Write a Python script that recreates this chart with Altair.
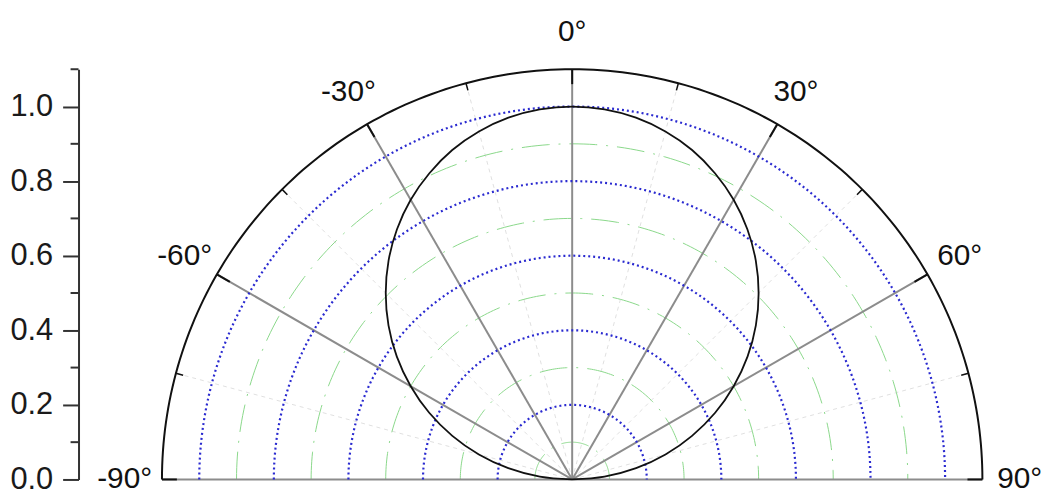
import altair as alt
import pandas as pd

# ---- data ----
ring_major = [0.2, 0.4, 0.6, 0.8, 1.0]          # blue dotted circles
ring_minor = [0.1, 0.3, 0.5, 0.7, 0.9]          # green dash-dot circles
outer_radius = [1.1]                            # outer boundary arc
spoke_major = [-90, -60, -30, 0, 30, 60, 90]    # grey radial grid lines
spoke_minor = [-75, -45, -15, 15, 45, 75]       # faint minor radial lines
tick_major = [-90, -60, -30, 0, 30, 60, 90]
tick_minor = [-75, -45, -15, 15, 45, 75]
label_angles = [-90, -60, -30, 0, 30, 60, 90]
y_major = [0.0, 0.2, 0.4, 0.6, 0.8, 1.0]
y_minor = [0.1, 0.3, 0.5, 0.7, 0.9, 1.1]
curve_angle = list(range(-90, 91, 5))
curve_r = [0.000, 0.087, 0.174, 0.259, 0.342, 0.423, 0.500, 0.574, 0.643, 0.707,
           0.766, 0.819, 0.866, 0.906, 0.940, 0.966, 0.985, 0.996,
           1.000,
           0.996, 0.985, 0.966, 0.940, 0.906, 0.866, 0.819, 0.766, 0.707, 0.643,
           0.574, 0.500, 0.423, 0.342, 0.259, 0.174, 0.087, 0.000]

arc_steps = list(range(-90, 91, 1))

# ---- tables ----
def ring_table(radii):
    return pd.DataFrame([{"ring": r, "a": a, "r": r} for r in radii for a in arc_steps])

rings_major_df = ring_table(ring_major)
rings_minor_df = ring_table(ring_minor)
outer_df = ring_table(outer_radius)
curve_df = pd.DataFrame({"a": curve_angle, "r": curve_r})
spoke_major_df = pd.DataFrame({"a": spoke_major, "r0": 0.0, "r1": outer_radius[0]})
spoke_minor_df = pd.DataFrame({"a": spoke_minor, "r0": 0.0, "r1": outer_radius[0]})
tick_major_df = pd.DataFrame({"a": tick_major, "r0": 1.06, "r1": outer_radius[0]})
tick_minor_df = pd.DataFrame({"a": tick_minor, "r0": 1.08, "r1": outer_radius[0]})
label_df = pd.DataFrame({"a": label_angles, "r": 1.2})
ymin_df = pd.DataFrame({"v": y_minor})

# ---- scales (equal px per unit on both axes) ----
k = 413 / 1.1
x_min = -497 / k
x_max = x_min + 969 / k
xs = alt.Scale(domain=[x_min, x_max], nice=False, zero=False)
ys = alt.Scale(domain=[0, 1.1], nice=False, zero=False)

FONT = "Liberation Sans"
yaxis = alt.Axis(values=y_major, format=".1f", labelFontSize=31, labelFont=FONT,
                 labelColor="#1a1a1a", tickSize=16, tickWidth=2, tickColor="#333333",
                 domainColor="#333333", domainWidth=2, labelPadding=10, grid=False,
                 title=None)

PX = "datum.r*sin(datum.a*PI/180)"
PY = "datum.r*cos(datum.a*PI/180)"


def arc_layer(df, **mark):
    return alt.Chart(df).transform_calculate(x=PX, y=PY).mark_line(**mark).encode(
        x=alt.X("x:Q", scale=xs, axis=None),
        y=alt.Y("y:Q", scale=ys, axis=yaxis),
        detail="ring:N",
        order="a:Q",
    )


def ray_layer(df, **mark):
    return alt.Chart(df).transform_calculate(
        x0="datum.r0*sin(datum.a*PI/180)", y0="datum.r0*cos(datum.a*PI/180)",
        x1="datum.r1*sin(datum.a*PI/180)", y1="datum.r1*cos(datum.a*PI/180)",
    ).mark_rule(**mark).encode(
        x=alt.X("x0:Q", scale=xs, axis=None),
        y=alt.Y("y0:Q", scale=ys, axis=yaxis),
        x2="x1:Q",
        y2="y1:Q",
    )


minor_spokes = ray_layer(spoke_minor_df, color="#e0e0e0", strokeWidth=1, strokeDash=[4, 4])
green_rings = arc_layer(rings_minor_df, color="#8ad88a", strokeWidth=1, strokeDash=[28, 9, 2, 9])
major_spokes = ray_layer(spoke_major_df, color="#8c8c8c", strokeWidth=2)
blue_rings = arc_layer(rings_major_df, color="#2a2ad0", strokeWidth=2.2, strokeDash=[2, 3])
curve = alt.Chart(curve_df).transform_calculate(x=PX, y=PY).mark_line(
    color="#111111", strokeWidth=1.8, interpolate="catmull-rom").encode(
    x=alt.X("x:Q", scale=xs, axis=None),
    y=alt.Y("y:Q", scale=ys, axis=yaxis),
    order="a:Q",
)
outer = arc_layer(outer_df, color="#111111", strokeWidth=2)
ticks_major = ray_layer(tick_major_df, color="#111111", strokeWidth=2)
ticks_minor = ray_layer(tick_minor_df, color="#111111", strokeWidth=1.5)

labels = alt.Chart(label_df).transform_calculate(
    x=PX, y=PY, t="toString(datum.a) + '°'"
).mark_text(font=FONT, fontSize=30, color="#111111", align="center", baseline="middle").encode(
    x=alt.X("x:Q", scale=xs, axis=None),
    y=alt.Y("y:Q", scale=ys, axis=yaxis),
    text="t:N",
)

yminor = alt.Chart(ymin_df).mark_rule(color="#333333", strokeWidth=2).encode(
    y=alt.Y("v:Q", scale=ys, axis=yaxis),
    x=alt.value(-8),
    x2=alt.value(0),
)

chart = alt.layer(
    minor_spokes, green_rings, major_spokes, blue_rings, curve, outer,
    ticks_major, ticks_minor, labels, yminor,
).properties(
    width=969,
    height=413,
    autosize=alt.AutoSizeParams(type="none"),
    padding={"left": 71, "top": 60, "right": 0, "bottom": 14},
    background="white",
).configure_view(stroke=None)

chart.save("out.html", embed_options={"renderer": "svg", "actions": False})
